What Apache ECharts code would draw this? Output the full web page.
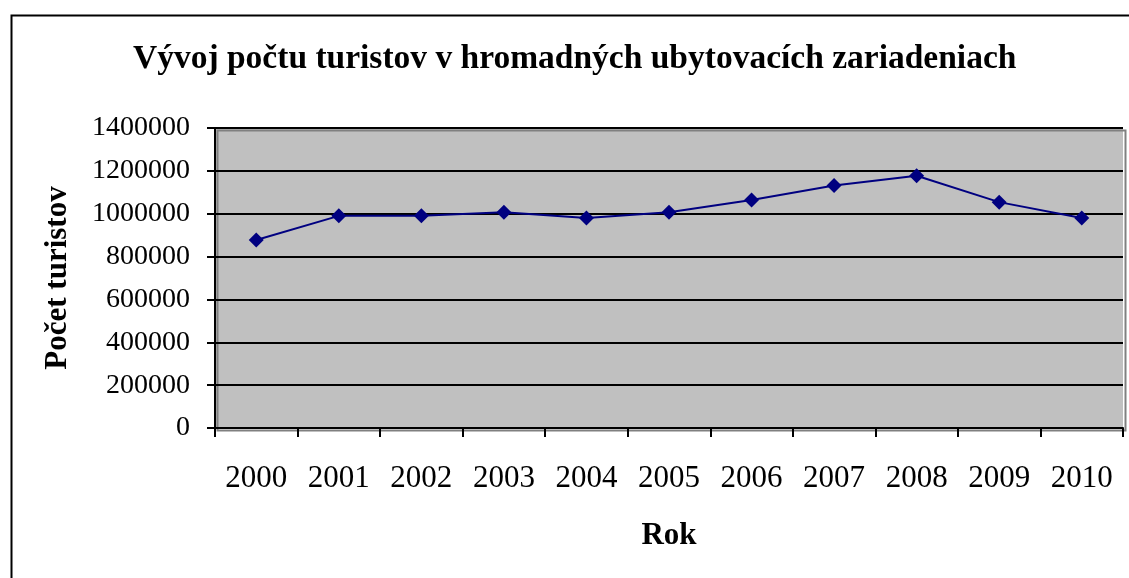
<!DOCTYPE html>
<html>
<head>
<meta charset="utf-8">
<script src="https://cdn.jsdelivr.net/npm/echarts@6/dist/echarts.min.js"></script>
<style>
html,body{margin:0;padding:0;background:#fff;}
#c{width:1129px;height:578px;}
</style>
</head>
<body>
<div id="c"></div>
<script>
const years = ['2000','2001','2002','2003','2004','2005','2006','2007','2008','2009','2010'];
const tourists = [877000, 990000, 990000, 1007000, 980000, 1007000, 1064000, 1132000, 1177000, 1054000, 980000];
const yTicks = [0, 200000, 400000, 600000, 800000, 1000000, 1200000, 1400000];

const font = '"Liberation Serif", "Times New Roman", serif';
const chart = echarts.init(document.getElementById('c'));
chart.setOption({
  animation: false,
  backgroundColor: '#fff',
  graphic: [
    { type: 'rect', left: 9, top: 13, shape: { width: 1140, height: 600 }, style: { fill: 'none', stroke: '#000', lineWidth: 2 }, z: -1 },
    { type: 'rect', left: 215, top: 128, shape: { width: 908, height: 300 }, style: { fill: 'none', stroke: '#808080', lineWidth: 2 }, z: 0 }
  ],
  title: {
    text: 'Vývoj počtu turistov v hromadných ubytovacích zariadeniach',
    left: 128, top: 37,
    textStyle: { fontFamily: font, fontSize: 33.5, fontWeight: 'bold', color: '#000' }
  },
  grid: { left: 215, right: 6, top: 128, bottom: 150, backgroundColor: '#C0C0C0', show: true, borderWidth: 0 },
  xAxis: {
    type: 'category', data: years, boundaryGap: true,
    name: 'Rok', nameLocation: 'middle', nameGap: 92,
    nameTextStyle: { fontFamily: font, fontSize: 31, fontWeight: 'bold', color: '#000' },
    axisLine: { lineStyle: { color: '#000', width: 2 } },
    axisTick: { show: true, length: 9, lineStyle: { color: '#000', width: 2 }, alignWithLabel: false },
    axisLabel: { fontFamily: font, fontSize: 31, color: '#000', margin: 35 }
  },
  yAxis: {
    type: 'value', min: 0, max: 1400000, interval: 200000,
    name: 'Počet turistov', nameLocation: 'middle', nameGap: 142, nameRotate: 90,
    nameTextStyle: { fontFamily: font, fontSize: 31, fontWeight: 'bold', color: '#000' },
    axisLine: { show: true, lineStyle: { color: '#000', width: 2 } },
    axisTick: { show: true, length: 8, lineStyle: { color: '#000', width: 2 } },
    splitLine: { show: true, lineStyle: { color: '#000', width: 2 } },
    axisLabel: { fontFamily: font, fontSize: 28, color: '#000', margin: 25,
      formatter: v => yTicks.includes(v) ? String(v) : '' }
  },
  series: [{
    type: 'line', data: tourists,
    symbol: 'diamond', symbolSize: 15,
    lineStyle: { color: '#000080', width: 2 },
    itemStyle: { color: '#000080' }
  }]
});
</script>
</body>
</html>
